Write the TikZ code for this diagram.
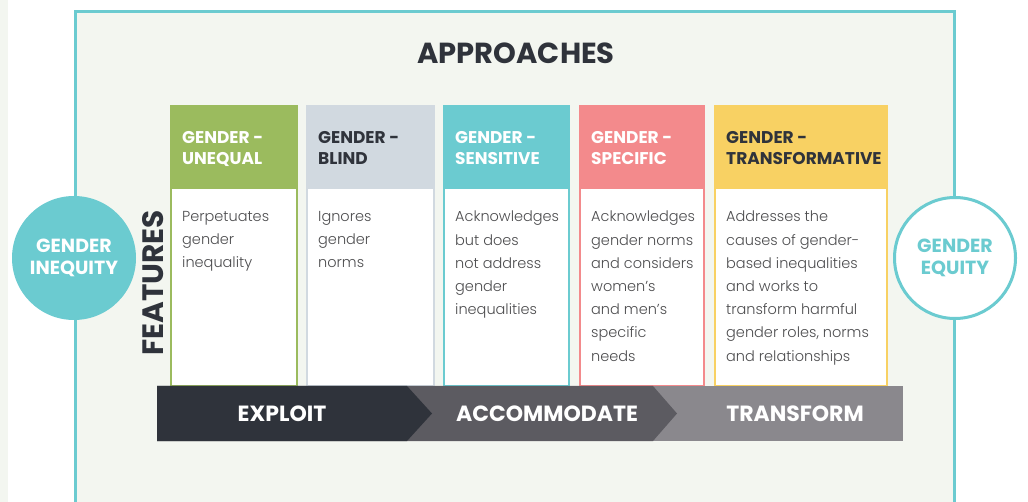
\documentclass[tikz,border=0pt]{standalone}
\usepackage{fontspec}
\setmainfont{Poppins}
\newfontfamily\lightfont{Poppins Light}
\definecolor{tealc}{HTML}{6BCBD0}
\definecolor{greenc}{HTML}{9BBB5E}
\definecolor{greyc}{HTML}{D1D9E0}
\definecolor{pinkc}{HTML}{F38A8C}
\definecolor{yellowc}{HTML}{F8D163}
\definecolor{darkc}{HTML}{2F333B}
\definecolor{midc}{HTML}{5C5B61}
\definecolor{lightbar}{HTML}{8A888D}
\definecolor{bgc}{HTML}{F3F6F0}
\definecolor{bodytext}{HTML}{4D4D4F}
\tikzset{
  hdr/.style={anchor=north west, inner sep=0pt, align=left, font=\bfseries\fontsize{17}{21}\selectfont},
  bodytxt/.style={anchor=north west, inner sep=0pt, align=left, text=bodytext, font=\lightfont\fontsize{14.5}{23.2}\selectfont},
  colbody/.style={draw, line width=2pt, fill=white, anchor=north west, inner sep=0pt, outer sep=0pt, minimum height=280pt},
  colhead/.style={anchor=north west, inner sep=0pt, outer sep=0pt, minimum height=84pt},
  barlabel/.style={text=white, font=\bfseries\fontsize{22}{26}\selectfont, inner sep=0pt},
  circtxt/.style={circle, minimum size=124pt, inner sep=0pt, align=center, font=\bfseries\fontsize{19}{22}\selectfont}
}
\newcommand\approachcol[7]{%
  \node[colbody, draw=#4, minimum width=#3pt-2pt] (#1body) at (#2+1,106) {};
  \node[colhead, fill=#4, minimum width=#3pt] (#1head) at (#2,105) {};
  \node[hdr, text=#5] (#1title) at (#2+12,131) {#6};
  \node[bodytxt] (#1text) at (#2+12,211) {#7};
}
\begin{document}
\begin{tikzpicture}[x=1pt,y=-1pt]
\useasboundingbox (0,0) rectangle (1028,502);
\fill[white] (0,0) rectangle (1028,502);
\fill[bgc] (0,0) rectangle (8,502);
\fill[bgc] (75,12) rectangle (954,502);
\draw[tealc, line width=3pt] (75,502) -- (75,12) -- (954,12) -- (954,502);
\node[text=darkc, font=\bfseries\fontsize{29}{34}\selectfont, inner sep=0pt] (title) at (516,53) {APPROACHES};
\approachcol{c1}{170}{128}{greenc}{white}{GENDER -\\UNEQUAL}{Perpetuates\\gender\\inequality}
\approachcol{c2}{306}{129}{greyc}{darkc}{GENDER -\\BLIND}{Ignores\\gender\\norms}
\approachcol{c3}{443}{127}{tealc}{white}{GENDER -\\SENSITIVE}{Acknowledges\\but does\\not address\\gender\\inequalities}
\approachcol{c4}{579}{126}{pinkc}{white}{GENDER -\\SPECIFIC}{Acknowledges\\gender norms\\and considers\\women’s\\and men’s\\specific\\needs}
\approachcol{c5}{714}{174}{yellowc}{darkc}{GENDER -\\TRANSFORMATIVE}{Addresses the\\causes of gender-\\based inequalities\\and works to\\transform harmful\\gender roles, norms\\and relationships}
\fill[lightbar] (157,386) rectangle (903,441);
\fill[midc] (157,386) -- (653,386) -- (677,413.5) -- (653,441) -- (157,441) -- cycle;
\fill[darkc] (157,386) -- (407,386) -- (432,413.5) -- (407,441) -- (157,441) -- cycle;
\node[barlabel] (exploit) at (282,413.5) {EXPLOIT};
\node[barlabel] (accommodate) at (547,413.5) {ACCOMMODATE};
\node[barlabel] (transform) at (795,413.5) {TRANSFORM};
\node[rotate=90, text=darkc, font=\bfseries\fontsize{29.5}{34}\selectfont, inner sep=0pt] (features) at (153,283) {FEATURES};
\node[circtxt, fill=tealc, text=white] (inequity) at (74,258) {GENDER\\INEQUITY};
\node[circtxt, draw=tealc, line width=3pt, fill=white, text=tealc, minimum size=121pt] (equity) at (955,258) {GENDER\\EQUITY};
\end{tikzpicture}
\end{document}
